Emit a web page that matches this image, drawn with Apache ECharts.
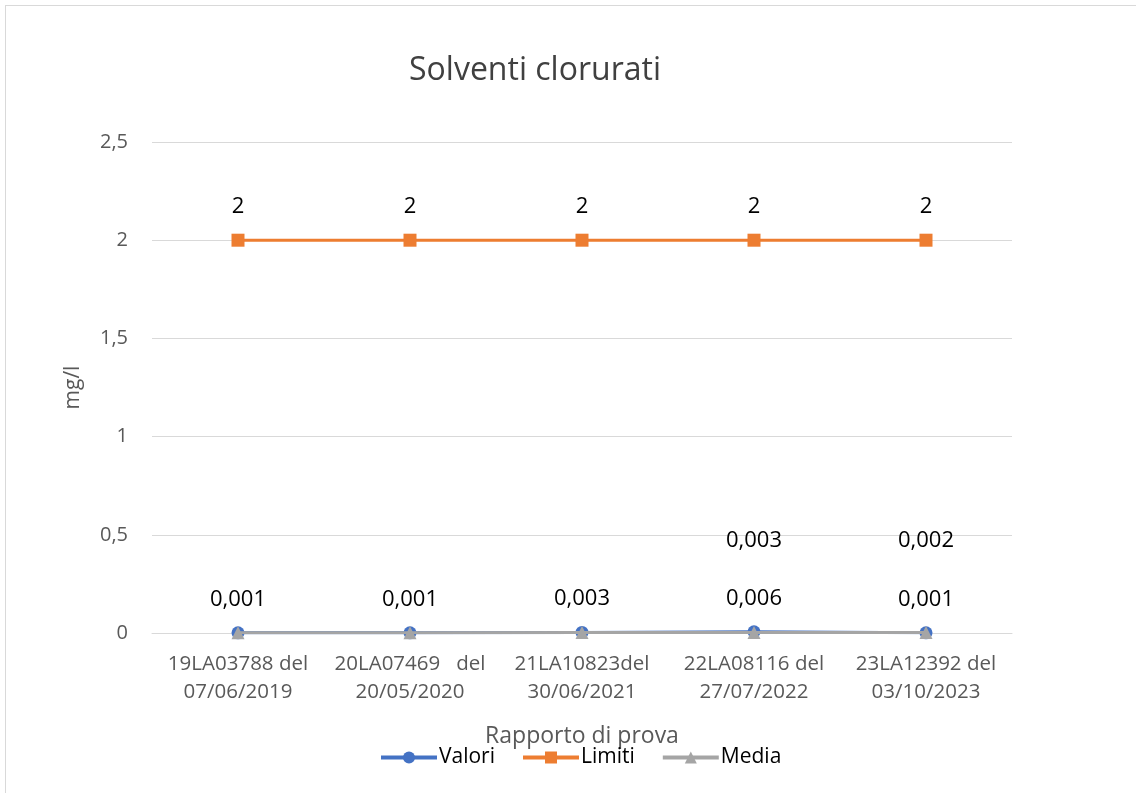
<!DOCTYPE html>
<html>
<head>
<meta charset="utf-8">
<script src="https://cdn.jsdelivr.net/npm/echarts@6/dist/echarts.min.js"></script>
<style>
html,body{margin:0;padding:0;background:#fff;}
#frame{position:absolute;left:5px;top:5px;width:1200px;height:900px;border-left:1px solid #d9d9d9;border-top:1px solid #d9d9d9;}
#chart{position:absolute;left:0;top:0;width:1136px;height:793px;}
</style>
</head>
<body>
<div id="frame"></div>
<div id="chart"></div>
<script>
const categories = [
  "19LA03788 del\n07/06/2019",
  "20LA07469   del\n20/05/2020",
  "21LA10823del\n30/06/2021",
  "22LA08116 del\n27/07/2022",
  "23LA12392 del\n03/10/2023"
];
const valori = [0.001, 0.001, 0.003, 0.006, 0.001];
const limiti = [2, 2, 2, 2, 2];
const media = [0.001, 0.001, 0.002, 0.003, 0.002];
const mediaLabelShown = [false, false, false, true, true];
const yTicks = [0, 0.5, 1, 1.5, 2, 2.5];

const FONT = "'Open Sans', 'Noto Sans', sans-serif";
const fmt = v => String(v).replace('.', ',');

const chart = echarts.init(document.getElementById('chart'), null, {renderer: 'canvas'});
chart.setOption({
  backgroundColor: 'transparent',
  animation: false,
  textStyle: {fontFamily: FONT},
  title: {
    text: 'Solventi clorurati',
    left: 530, top: 50,
    textAlign: 'center',
    textStyle: {fontFamily: FONT, fontSize: 32, fontWeight: 'normal', color: '#404040'}
  },
  grid: {left: 152, right: 124, top: 142, bottom: 160, containLabel: false},
  legend: {
    bottom: 20,
    left: 374,
    itemGap: 26,
    itemWidth: 56,
    itemHeight: 15,
    lineStyle: {width: 4},
    textStyle: {fontFamily: FONT, fontSize: 21, color: '#000', padding: [0, 0, 0, -3]},
    data: ['Valori', 'Limiti', 'Media']
  },
  xAxis: {
    type: 'category',
    data: categories,
    boundaryGap: true,
    name: 'Rapporto di prova',
    nameLocation: 'middle',
    nameGap: 92,
    nameTextStyle: {fontFamily: FONT, fontSize: 23, color: '#595959'},
    axisLine: {show: true, lineStyle: {color: '#d9d9d9', width: 1}},
    axisTick: {show: false},
    axisLabel: {fontFamily: FONT, fontSize: 20.5, color: '#595959', lineHeight: 28, margin: 17, interval: 0}
  },
  yAxis: {
    type: 'value',
    min: yTicks[0],
    max: yTicks[yTicks.length - 1],
    interval: 0.5,
    name: 'mg/l',
    nameLocation: 'middle',
    nameGap: 68,
    nameRotate: 90,
    nameTextStyle: {fontFamily: FONT, fontSize: 21, color: '#595959'},
    axisLine: {show: false},
    axisTick: {show: false},
    splitLine: {lineStyle: {color: '#d9d9d9', width: 1}},
    axisLabel: {fontFamily: FONT, fontSize: 20, color: '#595959', margin: 24, formatter: v => fmt(v)}
  },
  series: [
    {
      name: 'Valori', type: 'line', data: valori,
      symbol: 'circle', symbolSize: 13,
      itemStyle: {color: '#4472C4'},
      lineStyle: {color: '#4472C4', width: 3},
      label: {show: true, position: 'top', distance: 16, fontFamily: FONT, fontSize: 22, color: '#000', formatter: p => fmt(p.value)},
      z: 2
    },
    {
      name: 'Limiti', type: 'line', data: limiti,
      symbol: 'rect', symbolSize: 13,
      itemStyle: {color: '#ED7D31'},
      lineStyle: {color: '#ED7D31', width: 3},
      label: {show: true, position: 'top', distance: 16, fontFamily: FONT, fontSize: 22, color: '#000', formatter: p => fmt(p.value)},
      z: 3
    },
    {
      name: 'Media', type: 'line',
      data: media.map((v, i) => ({value: v, label: {show: mediaLabelShown[i]}})),
      symbol: 'triangle', symbolSize: 13,
      itemStyle: {color: '#A5A5A5'},
      lineStyle: {color: '#A5A5A5', width: 3},
      label: {position: 'top', distance: 74, fontFamily: FONT, fontSize: 22, color: '#000', formatter: p => fmt(p.value)},
      z: 4
    }
  ]
});
</script>
</body>
</html>
